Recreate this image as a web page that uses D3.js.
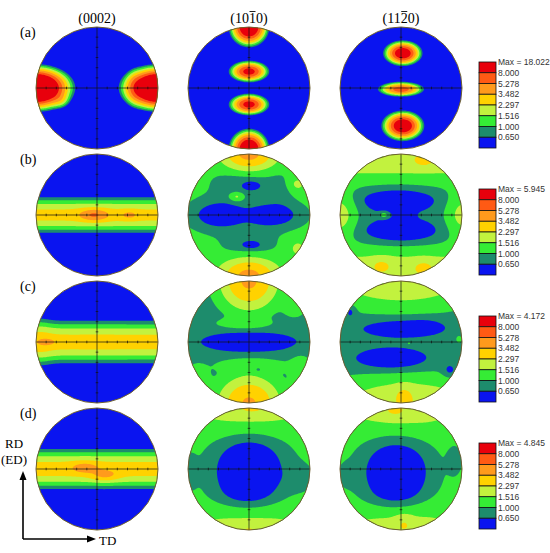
<!DOCTYPE html>
<html>
<head>
<meta charset="utf-8">
<script src="https://cdn.jsdelivr.net/npm/d3@7"></script>
<style>
  body { margin: 0; background: #fff; }
</style>
</head>
<body>
<svg id="chart"></svg>
<script>
// titres des colonnes, labels des lignes, max de chaque ligne
const headers = ["(0002)", "(1010)", "(1120)"];
const headerBars = [-1, 3, 3]; // index du caractere surligne
const rowLabels = ["(a)", "(b)", "(c)", "(d)"];
const maxLabels = ["Max = 18.022", "Max = 5.945", "Max = 4.172", "Max = 4.845"];
const levels = [0.650, 1.000, 1.516, 2.297, 3.482, 5.278, 8.000];
const levelColors = ["#0a14f0", "#1d8c6c", "#35ec35", "#c2f23e", "#ffd200", "#ff9a1c", "#ff5a14", "#e8000c"];

// niveau de fond de chaque figure de pole
const bases = [
  [0.05, 0.05, 0.05],
  [0.05, 1.1, 0.85],
  [0.05, 0.85, 0.85],
  [0.05, 1.15, 1.15]
];

// composantes : [x, y, largeur x, largeur y, intensite]
// x vers TD, y vers RD, dans le disque unite
const peaksA0002 = [
  [-1.0, 0.0, 0.23, 0.14, 30], [1.0, 0.0, 0.23, 0.14, 30],
  [-0.6, -0.2, 0.08, 0.07, 1.2], [0.62, 0.0, 0.08, 0.15, 1.5]
];
const peaksA1010 = [
  [0, 1.0, 0.13, 0.13, 16], [0, 0.27, 0.14, 0.075, 10],
  [0, -0.27, 0.14, 0.075, 10], [0, -1.0, 0.13, 0.13, 16]
];
const peaksA1120 = [
  [0.03, 0.57, 0.13, 0.085, 13], [0.0, -0.02, 0.17, 0.055, 7],
  [0.03, -0.62, 0.14, 0.1, 14]
];
const peaksB0002 = [
  [0, 0, 9, 0.17, 2.6], [-0.05, 0, 0.15, 0.06, 3.0], [0.53, 0, 0.1, 0.05, 1.3]
];
const peaksB1010 = [
  [0, 1.0, 0.26, 0.16, 2.9], [0, -1.0, 0.28, 0.18, 2.9],
  [-0.08, 0.5, 0.35, 0.2, -0.35], [0.55, 0.42, 0.15, 0.15, -0.3], [0.0, -0.5, 0.3, 0.22, -0.35],
  [-0.5, 0.0, 0.3, 0.16, -0.8], [0.4, 0.0, 0.3, 0.14, -0.8],
  [0.05, 0.48, 0.1, 0.05, -0.45], [0.04, -0.49, 0.1, 0.04, -0.5],
  [-0.2, 0.3, 0.08, 0.05, 0.75],
  [0.78, 0.5, 0.12, 0.1, 0.6], [0.8, -0.55, 0.1, 0.1, 0.6],
  [-0.95, -0.5, 0.06, 0.08, 0.6], [-0.95, 0.55, 0.06, 0.06, 0.5]
];
const peaksB1120 = [
  [0, 1.05, 4, 0.33, 1.25], [0, -1.05, 4, 0.33, 1.25],
  [0.37, 0.88, 0.12, 0.07, 0.7], [-0.32, -0.82, 0.12, 0.08, 0.7], [0.37, -0.85, 0.12, 0.08, 0.7],
  [-0.05, 0.26, 0.48, 0.15, -0.6], [0.0, -0.28, 0.48, 0.15, -0.6], [0.08, 0.0, 0.08, 0.14, -0.4],
  [-1.0, 0.0, 0.18, 0.25, 0.95], [1.0, 0.0, 0.18, 0.25, 0.85],
  [-0.28, 0.0, 0.05, 0.035, 0.55]
];
const peaksC0002 = [
  [0, 0, 9, 0.2, 2.7], [-0.82, 0, 0.1, 0.04, 1.3], [-0.95, 0.0, 0.15, 0.3, 0.4]
];
const peaksC1010 = [
  [0, 1.0, 0.28, 0.28, 2.9], [0, -1.0, 0.3, 0.26, 2.8],
  [0, 0, 0.53, 0.115, -0.6],
  [-0.1, 0.3, 0.3, 0.06, 0.4], [0.75, 0.55, 0.12, 0.1, 0.4],
  [0.05, -0.38, 0.4, 0.08, 0.4], [0.15, -0.45, 0.04, 0.03, -0.5],
  [-0.85, -0.6, 0.12, 0.15, 0.5], [0.85, -0.45, 0.12, 0.15, 0.5]
];
const peaksC1120 = [
  [0, 1.05, 0.8, 0.3, 1.4], [0.1, -1.05, 0.8, 0.3, 1.4], [0.05, -0.85, 0.1, 0.1, 0.6],
  [0.02, 0.22, 0.45, 0.1, -0.6], [0.4, 0.28, 0.2, 0.08, -0.2],
  [-0.15, -0.28, 0.42, 0.13, -0.6],
  [-0.83, 0.5, 0.06, 0.08, -0.4], [0.8, -0.47, 0.08, 0.08, -0.4],
  [0.95, 0.05, 0.04, 0.05, 0.3], [0.13, -0.02, 0.03, 0.03, 0.3]
];
const peaksD0002 = [
  [0, 0, 9, 0.19, 2.7], [-0.2, 0.02, 0.15, 0.06, 1.8], [0.13, -0.1, 0.15, 0.06, 1.6]
];
const peaksD1010 = [
  [0, -0.03, 0.42, 0.42, -1.1], [0.85, -0.15, 0.15, 0.15, -0.3], [-0.97, -0.05, 0.08, 0.2, -0.35],
  [-0.1, -0.45, 0.35, 0.15, -0.15],
  [0, 1.05, 0.7, 0.3, 0.8], [0.05, 1.0, 0.2, 0.08, 0.6],
  [0, -1.05, 0.7, 0.3, 0.8], [0, -1.0, 0.15, 0.06, 0.5]
];
const peaksD1120 = [
  [-0.08, -0.05, 0.4, 0.4, -1.05], [-0.88, -0.1, 0.1, 0.12, -0.35], [0.88, 0.15, 0.08, 0.16, -0.4],
  [-0.1, -0.45, 0.35, 0.15, -0.15],
  [0, 1.05, 0.7, 0.3, 0.8], [-0.1, 0.95, 0.15, 0.08, 0.6],
  [0, -1.05, 0.7, 0.3, 0.8], [0.05, -0.9, 0.1, 0.1, 0.6],
  [0.78, -0.68, 0.03, 0.03, -0.4]
];

const peaks = [
  [peaksA0002, peaksA1010, peaksA1120],
  [peaksB0002, peaksB1010, peaksB1120],
  [peaksC0002, peaksC1010, peaksC1120],
  [peaksD0002, peaksD1010, peaksD1120]
];

const width = 550
const height = 553
const R = 61
const n = 120 // resolution de la grille

const svg = d3.select("#chart").attr("width", width).attr("height", height)
  .style("font-family", "'Liberation Serif', 'Times New Roman', serif");

const colX = d3.scaleLinear().domain([0, 2]).range([97, 401]);
const rowY = d3.scaleLinear().domain([0, 3]).range([88, 469]);
const color = d3.scaleThreshold().domain(levels).range(levelColors);

function intensite(base, pk, x, y) {
  let v = base;
  for (const [px, py, sx, sy, a] of pk) {
    const dx = (x - px) / sx, dy = (y - py) / sy;
    v += a * Math.exp(-0.5 * (dx * dx + dy * dy));
  }
  return v;
}

// titres
headers.forEach((h, c) => {
  const t = svg.append("text")
    .attr("x", colX(c)).attr("y", 23)
    .attr("text-anchor", "middle")
    .style("font-size", "14px")
    .text(h);
  if (headerBars[c] >= 0) {
    const node = t.node();
    const a = node.getStartPositionOfChar(headerBars[c]);
    const b = node.getEndPositionOfChar(headerBars[c]);
    svg.append("line")
      .attr("x1", a.x + 0.5).attr("x2", b.x - 0.5)
      .attr("y1", 11.5).attr("y2", 11.5)
      .attr("stroke", "#222").attr("stroke-width", 1);
  }
});

rowLabels.forEach((l, r) => {
  svg.append("text")
    .attr("x", 20).attr("y", rowY(r) - 51)
    .style("font-size", "14px")
    .text(l);
});

const defs = svg.append("defs");

peaks.forEach((rowPk, r) => {
  rowPk.forEach((pk, c) => {
    const cx = colX(c), cy = rowY(r);
    const sx = d3.scaleLinear().domain([-1, 1]).range([cx - R, cx + R]);
    const sy = d3.scaleLinear().domain([-1, 1]).range([cy + R, cy - R]);

    const values = new Array(n * n);
    for (let j = 0; j < n; j++) {
      for (let i = 0; i < n; i++) {
        const x = (i + 0.5) / n * 2 - 1;
        const y = 1 - (j + 0.5) / n * 2;
        values[i + j * n] = intensite(bases[r][c], pk, x, y);
      }
    }
    const contours = d3.contours().size([n, n]).thresholds(levels)(values);

    const proj = d3.geoTransform({
      point: function(x, y) { this.stream.point(sx(x / n * 2 - 1), sy(1 - y / n * 2)); }
    });
    const path = d3.geoPath(proj);

    const id = "clip" + r + c;
    defs.append("clipPath").attr("id", id)
      .append("circle").attr("cx", cx).attr("cy", cy).attr("r", R);

    const g = svg.append("g").attr("clip-path", "url(#" + id + ")");
    g.append("circle").attr("cx", cx).attr("cy", cy).attr("r", R)
      .attr("fill", levelColors[0]);
    g.selectAll("path")
      .data(contours)
      .join("path")
      .attr("d", path)
      .attr("fill", d => color(d.value));

    // croix avec graduations
    const ax = svg.append("g").attr("stroke", "#111").attr("stroke-width", 0.7);
    ax.append("line").attr("x1", sx(-1)).attr("x2", sx(1)).attr("y1", cy).attr("y2", cy);
    ax.append("line").attr("x1", cx).attr("x2", cx).attr("y1", sy(-1)).attr("y2", sy(1));
    const tk = d3.range(-5, 6).filter(k => k != 0).map(k => k / 6);
    ax.selectAll(".th").data(tk).join("line")
      .attr("x1", d => sx(d)).attr("x2", d => sx(d))
      .attr("y1", cy - 1.3).attr("y2", cy + 1.3);
    ax.selectAll(".tv").data(tk).join("line")
      .attr("y1", d => sy(d)).attr("y2", d => sy(d))
      .attr("x1", cx - 1.3).attr("x2", cx + 1.3);

    svg.append("circle").attr("cx", cx).attr("cy", cy).attr("r", R)
      .attr("fill", "none").attr("stroke", "#6e5f30").attr("stroke-width", 1);
  });

  // legende
  const top = rowY(r) - 26;
  const bh = 86 / levelColors.length;
  const lg = svg.append("g");
  lg.selectAll("rect")
    .data(levelColors.slice().reverse())
    .join("rect")
    .attr("x", 479).attr("y", (d, k) => top + k * bh)
    .attr("width", 17).attr("height", bh)
    .attr("fill", d => d)
    .attr("stroke", "#111").attr("stroke-width", 0.8);
  const labs = [maxLabels[r]].concat(levels.map(v => v.toFixed(3)).reverse());
  lg.selectAll("text")
    .data(labs)
    .join("text")
    .attr("x", 498).attr("y", (d, k) => top + k * bh + 3)
    .style("font-family", "'Liberation Sans', Arial, sans-serif")
    .style("font-size", "8.5px")
    .attr("fill", "#333")
    .text(d => d);
});

// fleches RD / TD
const arr = svg.append("g").attr("stroke", "#000").attr("stroke-width", 1.6);
arr.append("line").attr("x1", 23).attr("y1", 539).attr("x2", 23).attr("y2", 477);
arr.append("line").attr("x1", 23).attr("y1", 539).attr("x2", 90).attr("y2", 539);
svg.append("path").attr("d", "M23,471L19.5,480L26.5,480Z").attr("fill", "#000");
svg.append("path").attr("d", "M96,539L87,535.5L87,542.5Z").attr("fill", "#000");
svg.append("text").attr("x", 14).attr("y", 448).attr("text-anchor", "middle")
  .style("font-size", "13px").text("RD");
svg.append("text").attr("x", 14).attr("y", 464).attr("text-anchor", "middle")
  .style("font-size", "13px").text("(ED)");
svg.append("text").attr("x", 99).attr("y", 545)
  .style("font-size", "13px").text("TD");
</script>
</body>
</html>
